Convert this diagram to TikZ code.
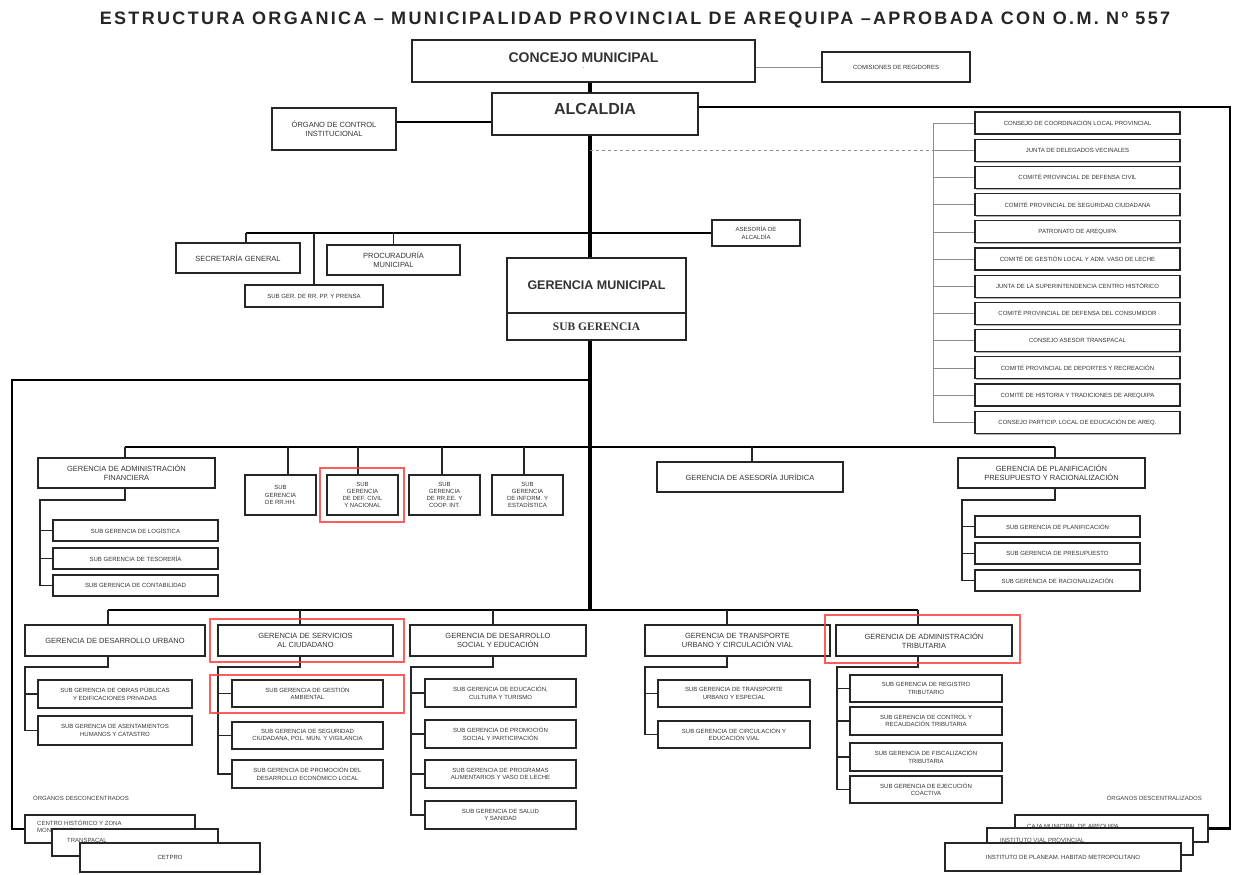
\documentclass[tikz,border=0pt]{standalone}
\usepackage{fontspec}
\setmainfont{Liberation Sans}
\newfontfamily\titlefont{Liberation Sans}[LetterSpace=13]
\newfontfamily\serifbold{Liberation Serif}
\usetikzlibrary{shadows}
\pgfdeclarelayer{back}
\pgfdeclarelayer{bg}
\pgfsetlayers{back,bg,main}
\newcommand\orgbox[7][]{%
  \pgfmathsetmacro\obcx{((#3)+(#5))/2}\pgfmathsetmacro\obcy{((#4)+(#6))/2}%
  \pgfmathsetmacro\obw{(#5)-(#3)}\pgfmathsetmacro\obh{(#6)-(#4)}%
  \node[box,minimum width=\obw pt,minimum height=\obh pt,#1] (#2) at (\obcx,\obcy) {#7};}
\tikzset{
  fsmall/.style={font=\fontsize{6}{7.2}\selectfont},
  fmid/.style={font=\fontsize{7.5}{9}\selectfont},
  box/.style={draw=black!85, line width=1.1pt, fill=white, align=center, inner sep=1pt,
    text=black!80, fsmall,
    drop shadow={shadow xshift=1.4pt, shadow yshift=-1.4pt, fill=black!30, opacity=1}},
  trunk/.style={line width=3.6pt, black},
  frame/.style={line width=2.4pt, black, line join=miter},
  bus/.style={line width=1.9pt, black},
  bustwo/.style={line width=2.6pt, black},
  drop/.style={line width=1.2pt, black!85},
  thinline/.style={line width=0.5pt, black!45},
  dashline/.style={line width=0.6pt, black!45, dashed},
  hl/.style={draw=red!75, line width=1.3pt, opacity=0.85},
  lab/.style={fsmall, text=black!75, inner sep=0pt}
}
\begin{document}
\begin{tikzpicture}[x=1pt,y=-1pt]
\useasboundingbox (0,0) rectangle (1235,875);
\begin{pgfonlayer}{back}
\fill[white] (0,0) rectangle (1235,875);
\end{pgfonlayer}

\node[font=\titlefont\bfseries\fontsize{18}{20}\selectfont, text=black!85] (title) at (635,20)
  {ESTRUCTURA ORGANICA – MUNICIPALIDAD PROVINCIAL DE AREQUIPA –APROBADA CON O.M. Nº 557};

% top level
\orgbox{con}{412}{40}{755}{82}{{\fontsize{14}{15}\selectfont\bfseries CONCEJO MUNICIPAL}\\[-1pt]{\fontsize{6}{6}\selectfont .}}
\orgbox{com}{822}{52}{970}{82}{COMISIONES DE REGIDORES}
\orgbox{alc}{492}{93}{698}{135}{{\fontsize{16}{18}\selectfont\bfseries ALCALDIA}\\[2pt]}
\orgbox[fmid]{oci}{272}{108}{396}{150}{ÓRGANO DE CONTROL\\INSTITUCIONAL}
\orgbox[fmid]{sg}{176}{243}{300}{273}{SECRETARÍA  GENERAL}
\orgbox[fmid]{proc}{327}{245}{460}{275}{PROCURADURÍA\\MUNICIPAL}
\orgbox{rrpp}{245}{285}{383}{307}{SUB GER. DE RR. PP. Y PRENSA}
\orgbox{ases}{712}{220}{800}{246}{ASESORÍA DE\\ALCALDÍA}
\orgbox{gm}{507}{258}{686}{313}{{\fontsize{12.5}{14}\selectfont\bfseries GERENCIA MUNICIPAL}}
\orgbox{sgm}{507}{313}{686}{340}{{\serifbold\bfseries\fontsize{11.5}{13}\selectfont SUB GERENCIA}}

% committees
\foreach \t [count=\i from 0] in {CONSEJO DE COORDINACIÓN LOCAL PROVINCIAL,
  JUNTA DE DELEGADOS VECINALES, COMITÉ PROVINCIAL DE DEFENSA CIVIL,
  COMITÉ PROVINCIAL DE SEGURIDAD CIUDADANA, PATRONATO DE AREQUIPA,
  COMITÉ DE GESTIÓN LOCAL Y ADM. VASO DE LECHE, JUNTA DE LA SUPERINTENDENCIA CENTRO HISTÓRICO,
  COMITÉ PROVINCIAL DE DEFENSA DEL CONSUMIDOR, CONSEJO ASESOR TRANSPACAL,
  COMITÉ PROVINCIAL DE DEPORTES Y RECREACIÓN, COMITÉ DE HISTORIA Y TRADICIONES DE AREQUIPA,
  CONSEJO PARTICIP. LOCAL DE EDUCACIÓN DE AREQ.}{
  \pgfmathsetmacro\yc{123+27.2*\i}
  \orgbox{k\i}{975}{\yc-11}{1180}{\yc+11}{\t}
}

% level 3
\orgbox[fmid]{gaf}{38}{458}{215}{488}{GERENCIA DE ADMINISTRACIÓN\\FINANCIERA}
\orgbox{log}{53}{520}{218}{541}{SUB GERENCIA DE LOGÍSTICA}
\orgbox{tes}{53}{548}{218}{569}{SUB GERENCIA DE TESORERÍA}
\orgbox{cont}{53}{575}{218}{596}{SUB GERENCIA DE CONTABILIDAD}
\orgbox{rrhh}{245}{475}{316}{515}{SUB\\GERENCIA\\DE RR.HH.}
\orgbox{dc}{327}{475}{398}{515}{SUB\\GERENCIA\\DE DEF. CIVIL\\Y NACIONAL}
\orgbox{rree}{409}{475}{480}{515}{SUB\\GERENCIA\\DE RR.EE. Y\\COOP. INT.}
\orgbox{inf}{492}{475}{563}{515}{SUB\\GERENCIA\\DE INFORM. Y\\ESTADÍSTICA}
\orgbox[fmid]{gaj}{657}{462}{843}{492}{GERENCIA DE ASESORÍA JURÍDICA}
\orgbox[fmid]{gpp}{958}{458}{1145}{488}{GERENCIA DE PLANIFICACIÓN\\PRESUPUESTO Y RACIONALIZACIÓN}
\orgbox{pla}{975}{516}{1140}{537}{SUB GERENCIA DE PLANIFICACIÓN}
\orgbox{pre}{975}{543}{1140}{564}{SUB GERENCIA DE PRESUPUESTO}
\orgbox{rac}{975}{570}{1140}{591}{SUB GERENCIA DE RACIONALIZACIÓN}

% level 4
\orgbox[fmid]{gdu}{25}{625}{205}{656}{GERENCIA DE DESARROLLO URBANO}
\orgbox{ob}{38}{680}{192}{708}{SUB GERENCIA DE OBRAS PÚBLICAS\\Y EDIFICACIONES PRIVADAS}
\orgbox{ah}{38}{716}{192}{745}{SUB GERENCIA DE ASENTAMIENTOS\\HUMANOS Y CATASTRO}
\orgbox[fmid]{gsc}{218}{625}{393}{656}{GERENCIA DE SERVICIOS\\AL CIUDADANO}
\orgbox{ga}{232}{680}{383}{707}{SUB GERENCIA DE GESTIÓN\\AMBIENTAL}
\orgbox{sc}{232}{722}{383}{749}{SUB GERENCIA DE SEGURIDAD\\CIUDADANA, POL. MUN. Y VIGILANCIA}
\orgbox{pd}{232}{760}{383}{788}{SUB GERENCIA DE PROMOCIÓN DEL\\DESARROLLO ECONÓMICO LOCAL}
\orgbox[fmid]{gdse}{410}{625}{586}{656}{GERENCIA DE DESARROLLO\\SOCIAL Y EDUCACIÓN}
\orgbox{ecu}{425}{679}{576}{707}{SUB GERENCIA DE EDUCACIÓN,\\CULTURA Y TURISMO}
\orgbox{ps}{425}{720}{576}{748}{SUB GERENCIA DE PROMOCIÓN\\SOCIAL Y PARTICIPACIÓN}
\orgbox{pa}{425}{760}{576}{788}{SUB GERENCIA DE PROGRAMAS\\ALIMENTARIOS Y VASO DE LECHE}
\orgbox{ss}{425}{801}{576}{829}{SUB GERENCIA DE SALUD\\Y SANIDAD}
\orgbox[fmid]{gtu}{645}{625}{830}{656}{GERENCIA DE TRANSPORTE\\URBANO Y CIRCULACIÓN VIAL}
\orgbox{tu}{658}{680}{810}{707}{SUB GERENCIA DE TRANSPORTE\\URBANO Y ESPECIAL}
\orgbox{cv}{658}{721}{810}{748}{SUB GERENCIA DE CIRCULACIÓN Y\\EDUCACIÓN VIAL}
\orgbox[fmid]{gat}{836}{625}{1012}{656}{GERENCIA DE ADMINISTRACIÓN\\TRIBUTARIA}
\orgbox{rt}{850}{675}{1002}{702}{SUB GERENCIA DE REGISTRO\\TRIBUTARIO}
\orgbox{cr}{850}{707}{1002}{735}{SUB GERENCIA DE CONTROL Y\\RECAUDACIÓN TRIBUTARIA}
\orgbox{ft}{850}{743}{1002}{771}{SUB GERENCIA DE FISCALIZACIÓN\\TRIBUTARIA}
\orgbox{ej}{850}{776}{1002}{803}{SUB GERENCIA DE EJECUCIÓN\\COACTIVA}

% bottom stacks
\node[lab, anchor=west] (odc) at (33,798) {ÓRGANOS DESCONCENTRADOS};
\node[lab, anchor=east] (odz) at (1202,798) {ÓRGANOS DESCENTRALIZADOS};
\orgbox{ch}{25}{815}{195}{843}{}
\node[lab, anchor=north west, align=left] (cht) at (37,820) {CENTRO HISTÓRICO Y ZONA\\MONUMENTAL};
\orgbox{tp}{52}{829}{218}{856}{}
\node[lab, anchor=west] (tpt) at (67,840) {TRANSPACAL};
\orgbox{cet}{80}{843}{260}{872}{CETPRO}
\orgbox{cm}{1015}{815}{1208}{842}{}
\node[lab, anchor=west] (cmt) at (1027,827) {CAJA MUNICIPAL DE AREQUIPA};
\orgbox{ivp}{987}{828}{1193}{855}{}
\node[lab, anchor=west] (ivpt) at (1000,840) {INSTITUTO VIAL PROVINCIAL};
\orgbox{imp}{945}{843}{1181}{871}{INSTITUTO DE PLANEAM. HABITAD METROPOLITANO}

% highlights
\draw[hl] (320,468) rectangle (404,522);
\draw[hl] (210,619) rectangle (404,662);
\draw[hl] (210,675) rectangle (404,713);
\draw[hl] (825,615) rectangle (1020,663);

% connectors
\coordinate (T) at (590,0);
\coordinate (fr) at (12,380);
\coordinate (ra) at (1230,107);
\coordinate (oy) at (0,122);
\coordinate (kx) at (933,0);
\coordinate (b2) at (246,233);
\coordinate (b3) at (125,447);
\coordinate (b3e) at (1055,447);
\coordinate (b4) at (108,610);
\coordinate (b4e) at (918,610);
\begin{pgfonlayer}{bg}
\draw[trunk] (con.south -| T) -- (alc.north -| T);
\draw[trunk] (alc.south -| T) -- (b4 -| T);
\draw[thinline] (con.east |- com.west) -- (com.west);
\draw[bus] (oci.east |- oy) -- (alc.west |- oy);
\draw[frame] (alc.east |- ra) -- (ra) |- (cm.east);
\draw[frame] (T |- fr) -- (fr) |- (ch.west);
% committees
\draw[thinline] (kx |- k0.west) -- (kx |- k11.west);
\foreach \i in {0,...,11} \draw[thinline] (kx |- k\i.west) -- (k\i.west);
\draw[dashline] (T |- k1.west) -- (k1.west);
% level 2
\draw[bustwo] (b2) -- (ases.west);
\draw[drop] (b2) -- (sg.north -| b2);
\draw[drop] (rrpp.north |- b2) -- (rrpp.north);
\draw[drop] (proc.north |- b2) -- (proc.north);
% level 3
\draw[bus] (b3) -- (b3e);
\foreach \n/\x in {gaf/125, rrhh/288, dc/358, rree/442, inf/524, gaj/752, gpp/1055}
  \draw[drop] (\x,447) -- (\n.north -| \x,447);
\draw[drop] (gaf.south -| 125,0) |- (40,500) |- (cont.west);
\foreach \s in {log,tes,cont} \draw[drop] (40,500 |- \s.west) -- (\s.west);
\draw[drop] (gpp.south -| 1055,0) |- (962,500) |- (rac.west);
\foreach \s in {pla,pre,rac} \draw[drop] (962,500 |- \s.west) -- (\s.west);
% level 4
\draw[bus] (b4) -- (b4e);
\foreach \n/\x in {gdu/108, gsc/300, gdse/493, gtu/727, gat/918}
  \draw[drop] (\x,610) -- (\n.north -| \x,610);
\draw[drop] (gdu.south -| 108,0) |- (25,667) |- (ah.west);
\foreach \s in {ob,ah} \draw[drop] (25,667 |- \s.west) -- (\s.west);
\draw[drop] (gsc.south -| 300,0) |- (218,667) |- (pd.west);
\foreach \s in {ga,sc,pd} \draw[drop] (218,667 |- \s.west) -- (\s.west);
\draw[drop] (gdse.south -| 493,0) |- (411,667) |- (ss.west);
\foreach \s in {ecu,ps,pa,ss} \draw[drop] (411,667 |- \s.west) -- (\s.west);
\draw[drop] (gtu.south -| 727,0) |- (645,667) |- (cv.west);
\foreach \s in {tu,cv} \draw[drop] (645,667 |- \s.west) -- (\s.west);
\draw[drop] (gat.south -| 918,0) |- (837,667) |- (ej.west);
\foreach \s in {rt,cr,ft,ej} \draw[drop] (837,667 |- \s.west) -- (\s.west);
\end{pgfonlayer}
\end{tikzpicture}
\end{document}
